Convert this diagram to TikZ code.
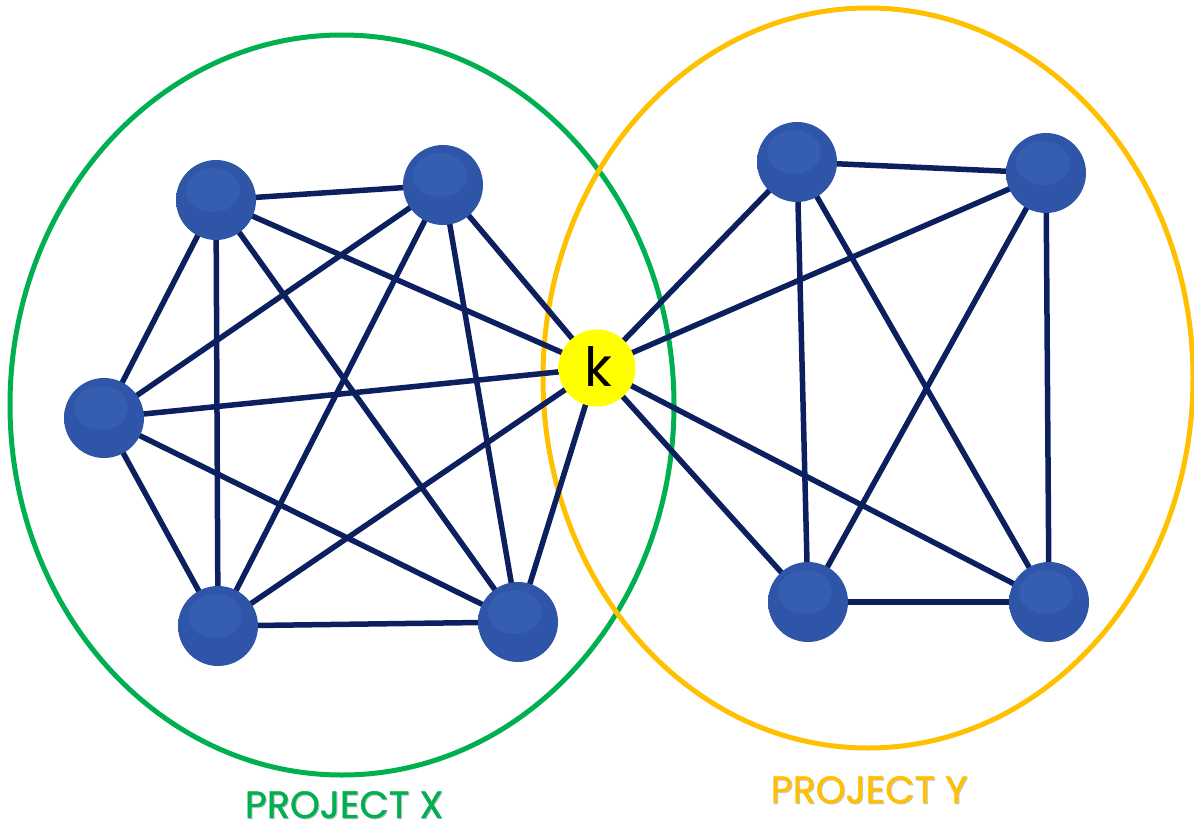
\documentclass[tikz,border=0pt]{standalone}
\usepackage{fontspec}
\newfontfamily\pop{Poppins}
\newfontfamily\popm{Poppins}[FakeBold=1.2]
\definecolor{nb}{RGB}{46,85,168}
\definecolor{nbdark}{RGB}{22,40,100}
\definecolor{nbhi}{RGB}{90,130,215}
\definecolor{edgec}{RGB}{12,32,96}
\definecolor{grn}{RGB}{0,176,80}
\definecolor{org}{RGB}{255,192,0}
\definecolor{yel}{RGB}{255,255,0}
\definecolor{yeldark}{RGB}{170,170,0}
\pgfdeclareradialshading{bluenode}{\pgfpoint{0bp}{0bp}}{color(0bp)=(nb); color(28bp)=(nb); color(33bp)=(nbdark); color(50bp)=(nbdark)}
\pgfdeclareradialshading{yelnode}{\pgfpoint{0bp}{0bp}}{color(0bp)=(yel); color(29bp)=(yel); color(34bp)=(yeldark); color(50bp)=(yeldark)}
\tikzset{
  ball/.style={circle, minimum size=80pt, inner sep=0pt, shading=bluenode},
  kball/.style={circle, minimum size=77pt, inner sep=0pt, shading=yelnode},
  link/.style={draw=edgec, line width=5.5pt},
  group/.style={line width=5pt},
  lbl/.style={font=\popm\fontsize{38}{38}\selectfont, inner sep=0pt, anchor=base, text depth=0pt},
}
\begin{document}
\begin{tikzpicture}[x=1pt,y=-1pt]
\useasboundingbox (0,0) rectangle (1194,832);
% groups
\draw[group, grn] (342,405) ellipse [x radius=332, y radius=370];
\draw[group, org] (868,378) ellipse [x radius=325, y radius=370];
% node positions
\coordinate (pa) at (216,200);
\coordinate (pb) at (443,185);
\coordinate (pc) at (104,418);
\coordinate (pd) at (218,626);
\coordinate (pe) at (518,622);
\coordinate (pk) at (597,368);
\coordinate (pf) at (797,162);
\coordinate (pg) at (1046,173);
\coordinate (ph) at (808,602);
\coordinate (pi) at (1049,602);
% edges
\foreach \u/\v in {pa/pb,pa/pc,pa/pd,pa/pe,pa/pk,pb/pc,pb/pd,pb/pe,pb/pk,pc/pd,pc/pe,pc/pk,pd/pe,pd/pk,pe/pk,
                   pk/pf,pk/pg,pk/ph,pk/pi,pf/pg,pf/ph,pf/pi,pg/ph,pg/pi,ph/pi}
  \draw[link] (\u) -- (\v);
% nodes
\foreach \n in {a,b,c,d,e,f,g,h,i}
  \node[ball] (\n) at (p\n) {};
\foreach \n in {a,b,c,d,e,f,g,h,i}
  \fill[nbhi, opacity=0.18] ([shift={(-3,-10)}]p\n) ellipse [x radius=27, y radius=22];
\node[kball] (k) at (pk) {};
\node[font=\pop\fontsize{54}{54}\selectfont, inner sep=0pt, anchor=base] (kl) at (598,386) {k};
% labels
\node[lbl, text=black!22] (xs) at (345,819) {PROJECT X};
\node[lbl, text=grn] (x) at (344,818) {PROJECT X};
\node[lbl, text=black!22] (ys) at (870,804) {PROJECT Y};
\node[lbl, text=org] (y) at (869,803) {PROJECT Y};
\end{tikzpicture}
\end{document}
